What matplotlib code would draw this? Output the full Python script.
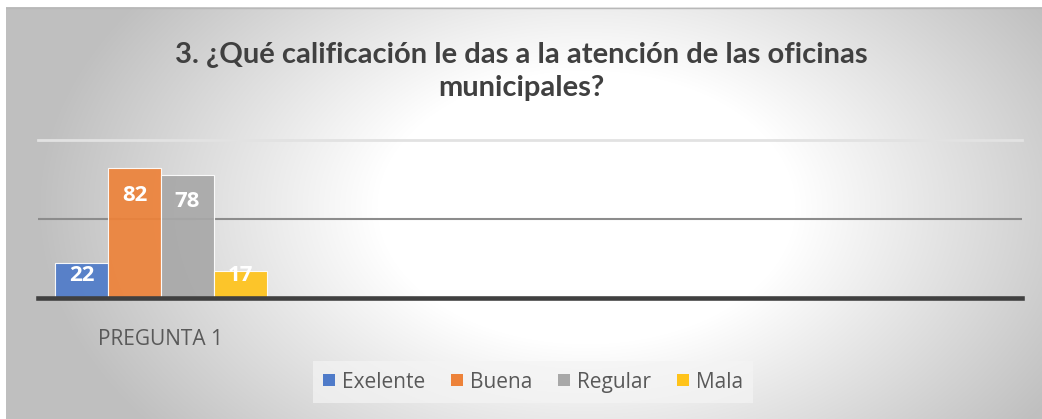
import numpy as np
import matplotlib
matplotlib.use("Agg")
import matplotlib.pyplot as plt
from matplotlib.patches import Patch

# datos de la grafica
categorias = ["PREGUNTA 1", "", "", ""]
series = ["Exelente", "Buena", "Regular", "Mala"]
valores = [22, 82, 78, 17]
colores = ["#4f7bc9", "#ed8239", "#a8a8a8", "#ffc31a"]

W, H = 1042, 419
fig = plt.figure(figsize=(W / 100, H / 100), dpi=100)
fig.patch.set_facecolor("white")

# fondo con degradado (blanco al centro, gris en los bordes)
bg = fig.add_axes([6 / W, 0, 1 - 6 / W, (H - 7) / H])
bw, bh = W - 6, H - 7
xx, yy = np.meshgrid(np.arange(bw), np.arange(bh))
cx, cy = 580, 200
d = np.sqrt(((xx - cx) / 550.0) ** 2 + ((yy - cy) / 360.0) ** 2)
t = np.clip((d - 0.38) / 0.62, 0, 1)
g = 1 - 0.25 * t
bg.imshow(np.dstack([g, g, g]), aspect="auto", extent=(0, bw, bh, 0))
bg.axhline(0.5, color="#b8b8b8", lw=1)
bg.set_axis_off()

fig.text(0.5, 0.829, "3. ¿Qué calificación le das a la atención de las oficinas\nmunicipales?",
         ha="center", va="center", fontsize=21, fontweight="bold", color="#404040",
         family="Lato", linespacing=1.35)

ax = fig.add_axes([38 / W, (H - 298) / H, 984 / W, 158 / H])
ax.set_facecolor("none")
x = np.arange(len(categorias))
ancho = 0.2146
for i, (s, v, c) in enumerate(zip(series, valores, colores)):
    pos = x[0] + (i - 1.5) * ancho
    ax.bar(pos, v, width=ancho, color=c, edgecolor="white", linewidth=0.8,
           alpha=0.92, zorder=3)
    ax.text(pos, max(v - 17, 14.5), str(v), ha="center", va="center",
            color="white", fontsize=16, fontweight="bold", family="Open Sans", zorder=4)

ax.set_xlim(-0.5, len(categorias) - 0.5)
ax.set_ylim(0, 100)
ax.axhline(50, color="#8c8c8c", lw=1.5, zorder=1)
ax.axhline(100, color="#e2e2e2", lw=2, zorder=1, clip_on=False)
ax.axhline(0, color="#404040", lw=3.3, zorder=5, clip_on=False)
for sp in ax.spines.values():
    sp.set_visible(False)
ax.set_yticks([])
ax.set_xticks(x)
ax.set_xticklabels(categorias, fontsize=15, color="#595959", family="Open Sans")
ax.tick_params(axis="x", length=0, pad=22)

handles = [Patch(facecolor=c, edgecolor="none") for c in colores]
leg = fig.legend(handles, series, loc="center", bbox_to_anchor=(533 / W, 1 - 382 / H),
                 ncol=4, frameon=True, handlelength=0.55, handleheight=0.55,
                 columnspacing=1.25, handletextpad=0.35, borderpad=0.5,
                 prop={"family": "Open Sans", "size": 15})
leg.get_frame().set_facecolor("#f4f4f4")
leg.get_frame().set_alpha(0.7)
leg.get_frame().set_edgecolor("none")
leg.get_frame().set_boxstyle("square", pad=0)
for txt in leg.get_texts():
    txt.set_color("#595959")

fig.savefig("out.png", dpi=100)
